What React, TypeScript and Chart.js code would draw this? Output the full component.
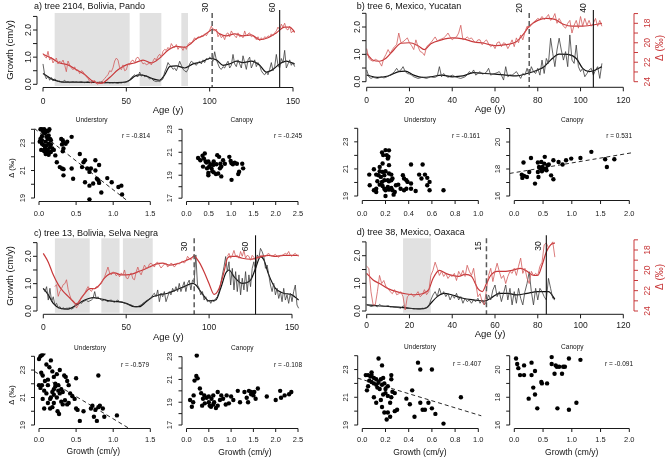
import React, { useEffect, useRef } from "react";
import { Chart, registerables } from "chart.js";

Chart.register(...registerables);

const W = 667;
const H = 461;
const FF = '"Liberation Sans", Arial, Helvetica, sans-serif';
const RED = "#c8383a";
const RED_RAW = "#d25a5a";
const BLACK = "#111111";
const GRAY_RAW = "#3c3c3c";
const SHADE = "#e1e1e1";

// ======================= DATA =======================
// ---- Panel a: tree 2104, Bolivia, Pando (annual, age 0..151)
const growthRawA = [
  0.75, 0.35, 0.2, 0.3, 0.15, 0.25, 0.12, 0.2, 0.15, 0.1,
  0.12, 0.08, 0.1, 0.15, 0.08, 0.1, 0.06, 0.08, 0.1, 0.07,
  0.09, 0.06, 0.08, 0.1, 0.07, 0.06, 0.08, 0.1, 0.06, 0.08,
  0.12, 0.07, 0.05, 0.08, 0.06, 0.1, 0.07, 0.05, 0.06, 0.08,
  0.05, 0.06, 0.05, 0.07, 0.05, 0.04, 0.06, 0.05, 0.07, 0.06,
  0.08, 0.1, 0.15, 0.25, 0.3, 0.35, 0.3, 0.28, 0.45, 0.3,
  0.35, 0.28, 0.32, 0.25, 0.2, 0.22, 0.15, 0.12, 0.1, 0.12,
  0.1, 0.15, 0.2, 0.45, 0.6, 0.8, 0.7, 0.65, 0.55, 0.6,
  0.5, 0.65, 0.85, 0.7, 0.55, 0.5, 0.45, 0.55, 0.75, 0.85,
  0.8, 0.75, 0.7, 0.8, 0.85, 0.75, 0.9, 0.8, 0.95, 0.9,
  1.0, 0.95, 0.85, 1.2, 0.9, 0.75, 0.6, 0.55, 0.65, 0.6,
  0.75, 0.85, 0.6, 0.7, 1.1, 0.75, 0.65, 0.9, 0.75, 0.6,
  1.05, 0.8, 0.55, 0.9, 1.0, 0.6, 0.75, 0.9, 0.65, 0.8,
  0.7, 0.5, 0.4, 0.35, 0.45, 0.35, 0.55, 0.8, 0.5, 0.65,
  1.1, 0.7, 0.6, 0.95, 0.8, 1.25, 0.6, 0.75, 0.9, 0.7,
  0.8, 0.65,
];
const deltaRawA = [
  20.8, 21.1, 21.3, 20.6, 21.5, 21.2, 21.8, 21.5, 21.3, 21.9,
  21.6, 21.8, 21.5, 22.0, 22.7, 21.6, 22.0, 22.3, 22.5, 22.2,
  22.6, 22.5, 22.9, 22.6, 22.7, 23.0, 23.2, 23.4, 23.7, 23.9,
  23.7, 23.6, 23.9, 24.0, 23.7, 23.9, 23.6, 23.4, 23.2, 23.0,
  22.6, 22.7, 22.3, 21.6, 21.3, 21.5, 22.3, 22.5, 22.0, 22.6,
  22.5, 21.9, 22.0, 21.6, 21.5, 21.8, 21.3, 21.2, 21.5, 21.6,
  21.9, 21.8, 22.0, 21.9, 21.8, 22.0, 21.6, 21.3, 21.5, 21.1,
  20.9, 21.2, 20.6, 20.4, 20.5, 20.2, 20.4, 19.8, 20.1, 20.2,
  19.9, 20.4, 20.1, 20.2, 20.5, 20.1, 20.4, 19.9, 19.7, 19.8,
  19.5, 19.2, 19.4, 19.1, 19.2, 19.0, 19.1, 18.8, 19.0, 18.7,
  18.4, 18.0, 18.4, 18.5, 18.3, 19.1, 18.8, 19.2, 19.0, 19.4,
  18.8, 18.7, 19.1, 18.5, 18.8, 19.0, 19.2, 18.7, 19.1, 19.0,
  19.2, 18.5, 19.0, 18.8, 18.7, 19.1, 19.0, 19.2, 19.4, 19.1,
  19.5, 19.2, 19.4, 19.1, 19.2, 19.0, 19.1, 18.8, 19.0, 18.7,
  18.5, 18.1, 18.4, 17.8, 18.1, 17.7, 18.3, 18.4, 18.0, 18.7,
  18.5, 18.7,
];
const growthSmoothAgeA = [0, 5, 10, 15, 20, 30, 40, 48, 52, 55, 58, 62, 66, 70, 73, 76, 80, 85, 90, 95, 100, 104, 108, 112, 116, 120, 125, 130, 134, 138, 142, 146, 151];
const growthSmoothA = [0.4, 0.2, 0.1, 0.08, 0.08, 0.07, 0.06, 0.07, 0.15, 0.3, 0.35, 0.3, 0.2, 0.15, 0.35, 0.65, 0.68, 0.6, 0.75, 0.82, 0.95, 0.9, 0.7, 0.75, 0.85, 0.8, 0.85, 0.7, 0.45, 0.55, 0.75, 0.85, 0.75];
const deltaSmoothAgeA = [0, 5, 10, 15, 20, 25, 30, 35, 40, 45, 50, 55, 60, 65, 70, 75, 80, 85, 88, 92, 96, 100, 102, 106, 110, 115, 120, 125, 130, 135, 140, 145, 148, 151];
const deltaSmoothA = [20.9, 21.3, 21.8, 22.0, 22.5, 23.0, 23.7, 23.9, 23.3, 22.5, 22.0, 21.8, 21.5, 21.8, 21.3, 20.5, 20.1, 20.2, 19.9, 19.3, 19.0, 18.5, 18.3, 18.8, 19.0, 18.8, 19.0, 18.9, 19.4, 19.2, 18.7, 18.1, 18.1, 18.6];
const shadeStartA = [7, 58, 83];
const shadeEndA = [52, 71, 87];
const markAgeA = [101.5, 142];
const markLabelA = ["30", "60"];

// ---- Panel b: tree 6, Mexico, Yucatan (annual, age 0..110)
const growthRawB = [
  0.43, 0.18, 0.12, 0.16, 0.14, 0.12, 0.15, 0.18, 0.14, 0.16,
  0.2, 0.24, 0.3, 0.37, 0.49, 0.37, 0.43, 0.55, 0.37, 0.3,
  0.28, 0.24, 0.18, 0.15, 0.12, 0.14, 0.16, 0.14, 0.12, 0.15,
  0.18, 0.16, 0.16, 0.2, 0.55, 0.18, 0.3, 0.22, 0.16, 0.2,
  0.24, 0.2, 0.16, 0.14, 0.12, 0.15, 0.18, 0.25, 0.37, 0.3,
  0.43, 0.24, 0.3, 0.37, 0.28, 0.3, 0.35, 0.49, 0.24, 0.28,
  0.3, 0.33, 0.37, 0.24, 0.06, 0.55, 0.18, 0.25, 0.24, 0.3,
  0.37, 0.25, 0.12, 0.3, 0.24, 0.49, 0.24, 0.55, 0.37, 0.3,
  0.49, 0.24, 0.79, 0.3, 0.85, 0.67, 1.59, 1.04, 0.55, 1.16,
  1.59, 1.16, 0.79, 1.1, 0.55, 1.71, 0.79, 0.67, 1.34, 0.55,
  0.37, 0.49, 0.18, 0.3, 0.43, 0.49, 0.24, 0.43, 0.55, 0.12,
  0.67,
];
const deltaRawB = [
  20.6, 21.6, 21.8, 21.9, 21.7, 21.8, 22.0, 22.4, 21.6, 21.2,
  20.7, 21.1, 20.7, 20.4, 20.2, 19.0, 20.0, 19.9, 19.7, 19.5,
  20.0, 20.3, 20.7, 19.7, 20.4, 20.9, 21.0, 21.3, 20.4, 20.2,
  20.0, 19.7, 19.4, 19.8, 19.7, 19.6, 19.5, 19.3, 19.0, 19.4,
  19.7, 19.5, 19.4, 19.0, 18.2, 19.7, 19.6, 19.4, 19.6, 19.5,
  19.8, 20.0, 19.7, 19.7, 20.2, 19.9, 19.7, 20.1, 20.4, 20.2,
  20.6, 20.0, 19.9, 20.4, 20.0, 20.1, 20.6, 20.2, 19.7, 20.4,
  19.5, 20.0, 19.2, 19.7, 18.9, 18.3, 18.4, 18.2, 17.9, 17.7,
  17.5, 17.6, 17.3, 17.6, 17.4, 17.1, 17.7, 17.5, 17.0, 18.0,
  17.5, 17.9, 18.3, 18.5, 18.0, 17.7, 19.0, 18.2, 17.7, 18.5,
  17.3, 18.3, 17.5, 18.2, 17.7, 18.3, 18.0, 17.5, 18.3, 17.7,
  18.3,
];
const growthSmoothAgeB = [0, 5, 10, 15, 18, 22, 26, 30, 35, 40, 45, 50, 55, 60, 65, 70, 75, 80, 83, 86, 90, 94, 98, 101, 104, 107, 110];
const growthSmoothB = [0.24, 0.16, 0.21, 0.37, 0.39, 0.24, 0.16, 0.18, 0.24, 0.18, 0.21, 0.33, 0.3, 0.28, 0.24, 0.21, 0.3, 0.43, 0.55, 0.79, 1.01, 1.0, 0.85, 0.49, 0.37, 0.43, 0.55];
const deltaSmoothAgeB = [0, 3, 6, 9, 12, 16, 20, 24, 27, 30, 35, 40, 45, 50, 55, 60, 65, 70, 73, 76, 80, 84, 88, 92, 96, 100, 105, 110];
const deltaSmoothB = [21.1, 21.8, 21.9, 21.6, 20.9, 20.05, 20.0, 20.3, 20.7, 20.1, 19.7, 19.5, 19.6, 19.9, 20.05, 20.3, 20.2, 19.9, 19.2, 18.3, 17.7, 17.5, 17.6, 18.1, 18.3, 18.3, 18.2, 18.0];
const markAgeB = [76, 106];
const markLabelB = ["20", "40"];

// ---- Panel c: tree 13, Bolivia, Selva Negra (annual, age 0..154)
const growthRawC = [
  0.83, 0.71, 0.89, 0.4, 0.83, 0.34, 0.52, 0.22, 0.28, 0.1,
  0.16, 0.07, 0.12, 0.07, 0.1, 0.1, 0.12, 0.07, 0.1, 0.16,
  0.28, 0.22, 0.32, 0.28, 0.34, 0.37, 0.4, 0.34, 0.37, 0.4,
  0.46, 0.71, 0.44, 0.52, 0.44, 0.4, 0.37, 0.44, 0.37, 0.34,
  0.39, 0.4, 0.34, 0.32, 0.37, 0.4, 0.34, 0.34, 0.32, 0.28,
  0.27, 0.24, 0.22, 0.22, 0.18, 0.16, 0.15, 0.16, 0.2, 0.22,
  0.28, 0.32, 0.37, 0.4, 0.44, 0.46, 0.59, 0.65, 0.52, 0.77,
  0.34, 0.65, 0.52, 0.71, 0.34, 0.52, 0.71, 0.59, 0.83, 0.71,
  0.89, 0.71, 1.01, 0.71, 0.89, 1.07, 0.71, 1.01, 1.13, 0.77,
  1.13, 1.07, 2.05, 0.95, 0.83, 0.59, 0.71, 0.4, 0.52, 0.34,
  0.4, 0.28, 0.4, 0.34, 0.46, 0.52, 0.71, 1.01, 1.32, 1.62,
  1.99, 1.44, 1.8, 0.95, 1.56, 0.77, 1.44, 0.71, 1.32, 0.59,
  1.2, 0.77, 1.44, 0.71, 1.32, 0.89, 1.56, 1.8, 1.44, 2.05,
  1.93, 2.29, 2.17, 1.99, 1.56, 1.68, 1.32, 0.95, 0.71, 1.01,
  0.59, 0.83, 0.46, 0.71, 0.34, 0.83, 0.4, 0.59, 0.28, 0.65,
  0.34, 0.71, 0.95, 0.22, 0.1,
];
const deltaRawC = [
  null, null, null, null, null, null, null,
  21.5, 21.3, 22.5,
  22.0, 21.7, 21.3, 21.2, 20.8, 21.8, 22.4, 22.9, 23.1, 23.3,
  23.7, 23.4, 23.0, 22.6, 22.4, 22.2, 21.8, 21.5, 21.8, 22.0,
  21.7, 21.7, 21.5, 21.6, 21.3, 21.2, 20.8, 20.5, 20.0, 19.5,
  20.1, 20.3, 20.0, 20.1, 20.4, 20.2, 20.5, 20.1, 20.3, 19.8,
  20.6, 20.7, 20.3, 20.1, 20.7, 20.8, 20.0, 19.5, 20.0, 20.3,
  19.8, 19.3, 19.6, 19.6, 19.2, 19.1, 19.3, 19.5, 19.1, 19.0,
  19.3, 19.6, 19.4, 19.2, 19.1, 19.5, 19.3, 19.1, 19.2, 19.5,
  19.3, 19.1, 19.2, 19.0, 18.9, 19.1, 18.9, 18.4, 18.6, 18.8,
  18.5, 18.2,
  null, null, null, null, null, null, null, null, null, null,
  null, null, null, null, null, null, null, null, null,
  18.4, 18.1, 18.6, 18.3, 17.8, 18.4, 18.3, 18.6, 17.9, 18.4,
  17.8, 18.6, 18.3, 18.4, 18.8, 18.3, 18.5, 18.8, 18.4, 18.6,
  18.3, 18.3, 18.4, 18.4, 18.2, 18.1, 18.3, 18.4, 18.3, 18.2,
  18.4, 18.5, 18.3, 18.3, 18.2, 18.1, 18.2, 17.9, 18.3, 18.4,
  18.2, 18.1, 18.3, 18.4,
];
const growthSmoothAgeC = [0, 3, 6, 10, 15, 20, 25, 30, 35, 40, 45, 50, 55, 58, 62, 66, 70, 75, 80, 85, 90, 92, 95, 100, 104, 107, 110, 112, 115, 120, 125, 128, 131, 133, 136, 140, 145, 150, 154];
const growthSmoothC = [0.83, 0.59, 0.28, 0.1, 0.07, 0.22, 0.4, 0.49, 0.44, 0.37, 0.34, 0.28, 0.16, 0.16, 0.34, 0.52, 0.59, 0.65, 0.77, 0.89, 1.01, 0.95, 0.71, 0.37, 0.4, 0.83, 1.38, 1.5, 1.26, 1.01, 1.13, 1.56, 1.99, 1.87, 1.32, 0.83, 0.65, 0.59, 0.4];
const deltaSmoothAgeC = [0, 3, 6, 9, 12, 15, 18, 20, 22, 25, 28, 31, 34, 37, 40, 43, 47, 50, 54, 57, 60, 64, 68, 72, 76, 80, 85, 89, 91, 94, 97, 100, 103, 106, 109, 111, 113, 116, 120, 125, 128, 132, 136, 140, 145, 150, 154];
const deltaSmoothC = [18.1, 19.0, 20.3, 21.3, 22.0, 22.5, 23.0, 23.3, 22.9, 22.2, 21.7, 21.7, 21.3, 20.6, 20.2, 20.1, 20.3, 20.3, 20.2, 20.0, 19.8, 19.5, 19.2, 19.1, 19.3, 19.2, 18.9, 18.6, 18.4, 19.0, 20.0, 21.2, 22.3, 21.7, 20.0, 18.6, 18.4, 18.4, 18.6, 18.7, 18.6, 18.4, 18.3, 18.4, 18.3, 18.3, 18.3];
const shadeStartC = [7, 35, 48];
const shadeEndC = [28, 46, 66];
const markAgeC = [91, 128];
const markLabelC = ["30", "60"];

// ---- Panel d: tree 38, Mexico, Oaxaca (annual, age 0..88)
const growthRawD = [
  0.24, 0.2, 0.16, 0.18, 0.19, 0.15, 0.24, 0.18, 0.16, 0.17,
  0.19, 0.15, 0.16, 0.14, 0.13, 0.12, 0.1, 0.19, 0.12, 0.1,
  0.1, 0.09, 0.07, 0.08, 0.07, 0.08, 0.1, 0.09, 0.12, 0.16,
  0.4, 0.58, 0.7, 0.52, 0.82, 0.58, 0.7, 0.52, 0.64, 0.4,
  0.58, 0.46, 0.64, 0.4, 0.52, 0.28, 0.46, 0.34, 0.4, 0.28,
  0.4, 0.34, 0.46, 0.28, 0.4, 0.22, 0.34, 0.58, 0.4, 0.76,
  0.94, 0.52, 0.7, 0.34, 0.64, 0.94, 0.4, 0.82, 0.22, 0.7,
  0.28, 0.82, 0.46, 0.22, 0.7, 1.0, 1.42, 0.7, 0.22, 0.82,
  0.4, 0.82, 0.7, 0.52, 0.4, 1.18, 0.82, 0.46, 0.4,
];
const deltaRawD = [
  19.6, 19.8, 22.1, 23.4, 23.4, 22.1, 20.5, 21.3, 21.0, 21.6,
  21.8, 22.1, 22.3, 21.9, 22.4, 22.3, 22.1, 22.6, 23.9, 22.6,
  22.4, 22.3, 22.6, 22.4, 22.1, 22.6, 22.4, 21.9, 22.4, 22.1,
  20.5, 20.0, 19.2, 19.8, 20.5, 20.1, 20.6, 20.3, 20.8, 20.5,
  20.6, 20.3, 21.0, 20.1, 20.5, 20.0, 20.6, 19.5, 20.1, 20.5,
  19.8, 21.3, 22.6, 22.3, 23.1, 23.4, 21.9, 20.5, 19.8, 21.1,
  20.1, 19.3, 20.1, 20.8, 20.5, 21.3, 20.6, 20.1, 20.3, 19.8,
  20.5, 19.6, 18.8, 20.3, 19.8, 20.8, 21.3, 20.1, 20.5, 20.3,
  20.5, 19.6, 19.2, 17.5, 17.3, 17.8, 17.5, 17.2, 18.7,
];
const growthSmoothAgeD = [0, 5, 10, 15, 20, 25, 28, 30, 33, 36, 40, 45, 50, 55, 58, 62, 66, 70, 75, 80, 85, 88];
const growthSmoothD = [0.22, 0.19, 0.17, 0.14, 0.1, 0.08, 0.12, 0.28, 0.52, 0.64, 0.58, 0.46, 0.4, 0.36, 0.46, 0.64, 0.64, 0.58, 0.64, 0.7, 0.7, 0.43];
const deltaSmoothAgeD = [0, 3, 6, 10, 14, 18, 22, 26, 29, 31, 34, 37, 40, 43, 46, 49, 52, 54, 56, 58, 61, 65, 68, 72, 75, 78, 80, 82, 84, 86, 88];
const deltaSmoothD = [20.3, 20.95, 21.3, 21.8, 22.1, 22.3, 22.4, 22.3, 21.9, 20.8, 20.0, 20.3, 20.5, 20.6, 20.4, 20.6, 21.8, 22.1, 21.3, 20.5, 20.1, 20.1, 20.0, 19.8, 20.1, 20.5, 20.5, 19.5, 18.2, 17.5, 17.3];
const shadeStartD = [17];
const shadeEndD = [30];
const markAgeD = [56, 84];
const markLabelD = ["15", "30"];

// ---- Scatter: growth (cm/y) vs Δ (‰)
const undAx = [0.02, 0.04, 0.07, 0.09, 0.11, 0.06, 0.08, 0.04, 0.1, 0.13, 0.12, 0.16, 0.04, 0.09, 0.13, 0.16, 0.06, 0.1, 0.15, 0.18, 0.03, 0.07, 0.11, 0.16, 0.2, 0.09, 0.13, 0.22, 0.04, 0.01, 0.3, 0.32, 0.33, 0.31, 0.36, 0.38, 0.44, 0.33, 0.32, 0.24, 0.28, 0.31, 0.33, 0.33, 0.44, 0.46, 0.55, 0.58, 0.6, 0.62, 0.65, 0.68, 0.7, 0.76, 0.76, 0.81, 0.62, 0.68, 0.73, 0.78, 0.8, 0.81, 0.84, 0.92, 0.98, 1.07, 1.11, 1.12, 0.68, 0.02, 0.05, 0.13, 0.14, 0.08, 0.12, 0.15];
const undAy = [24.0, 24.0, 24.0, 23.9, 23.85, 23.8, 23.7, 23.5, 23.45, 23.55, 23.3, 23.2, 23.2, 23.1, 22.95, 22.9, 22.85, 22.8, 22.7, 22.6, 22.5, 22.4, 22.3, 22.35, 22.5, 22.2, 22.15, 22.1, 22.95, 23.1, 23.3, 23.2, 23.0, 22.9, 22.95, 23.1, 23.45, 22.6, 22.4, 21.6, 21.25, 21.15, 21.1, 20.65, 21.15, 20.4, 22.2, 21.25, 21.6, 21.75, 21.15, 20.9, 21.15, 21.75, 21.0, 21.4, 20.15, 19.9, 20.05, 20.4, 20.3, 20.1, 19.4, 20.45, 20.15, 19.8, 19.9, 19.25, 18.9, 23.3, 23.9, 23.9, 24.0, 22.6, 22.5, 23.3];
const canAx = [0.26, 0.31, 0.36, 0.41, 0.39, 0.43, 0.45, 0.49, 0.37, 0.46, 0.49, 0.49, 0.56, 0.58, 0.61, 0.66, 0.67, 0.69, 0.73, 0.76, 0.78, 0.75, 0.78, 0.71, 0.82, 0.86, 0.96, 0.99, 1.01, 1.04, 1.08, 1.13, 1.18, 1.16, 1.25, 1.27, 1.01, 0.54, 0.6, 0.61, 0.51];
const canAy = [20.5, 20.3, 20.7, 20.9, 20.45, 20.2, 20.1, 20.2, 19.75, 19.6, 19.2, 19.0, 19.6, 19.35, 19.25, 19.1, 19.95, 20.75, 20.6, 20.0, 19.75, 19.6, 18.9, 19.15, 20.3, 20.0, 20.6, 20.25, 20.05, 19.95, 20.1, 20.0, 19.3, 19.1, 20.0, 19.6, 18.6, 19.95, 19.9, 20.2, 19.75];
const undBx = [0.17, 0.2, 0.23, 0.21, 0.225, 0.18, 0.175, 0.22, 0.23, 0.15, 0.175, 0.2, 0.12, 0.06, 0.1, 0.14, 0.16, 0.19, 0.23, 0.25, 0.26, 0.13, 0.17, 0.15, 0.175, 0.12, 0.19, 0.2, 0.22, 0.23, 0.25, 0.26, 0.29, 0.27, 0.2, 0.064, 0.1, 0.12, 0.19, 0.22, 0.23, 0.25, 0.28, 0.31, 0.33, 0.36, 0.35, 0.36, 0.38, 0.39, 0.42, 0.42, 0.42, 0.46, 0.49, 0.51, 0.52, 0.54, 0.56, 0.58, 0.56, 0.58, 0.7, 0.38, 0.15];
const undBy = [22.22, 22.39, 22.37, 22.02, 21.9, 22.02, 21.4, 21.77, 21.28, 20.83, 20.78, 20.83, 20.58, 20.58, 20.98, 20.53, 20.41, 20.53, 20.66, 20.58, 20.29, 20.09, 20.04, 19.84, 19.74, 19.54, 19.54, 19.42, 19.67, 19.47, 19.59, 19.42, 19.79, 19.1, 19.0, 19.79, 19.42, 19.3, 20.16, 20.16, 20.09, 20.16, 19.3, 19.84, 19.54, 19.42, 20.53, 20.29, 20.16, 20.04, 21.33, 19.92, 19.54, 19.37, 20.58, 20.29, 21.33, 20.58, 20.34, 20.04, 19.79, 19.42, 19.42, 19.54, 21.15];
const canBx = [0.16, 0.13, 0.14, 0.17, 0.22, 0.26, 0.29, 0.36, 0.41, 0.42, 0.41, 0.43, 0.45, 0.47, 0.48, 0.49, 0.51, 0.52, 0.53, 0.55, 0.56, 0.58, 0.6, 0.64, 0.68, 0.68, 0.77, 0.84, 0.9, 0.99, 1.15, 1.34, 1.58, 1.61, 1.74];
const canBy = [18.48, 17.58, 17.34, 17.49, 17.41, 17.78, 18.82, 16.92, 17.78, 17.41, 18.48, 18.15, 18.03, 18.52, 17.83, 18.15, 17.98, 18.4, 18.9, 18.03, 17.9, 18.28, 18.33, 17.53, 17.24, 18.65, 18.52, 18.33, 18.65, 18.77, 18.82, 19.27, 18.72, 18.15, 18.72];
const undCx = [0.0, 0.02, 0.04, 0.06, 0.03, 0.05, 0.0, 0.02, 0.04, 0.07, 0.1, 0.14, 0.16, 0.18, 0.2, 0.12, 0.24, 0.28, 0.1, 0.05, 0.07, 0.12, 0.15, 0.18, 0.2, 0.22, 0.2, 0.24, 0.26, 0.28, 0.3, 0.34, 0.36, 0.38, 0.4, 0.3, 0.32, 0.35, 0.38, 0.4, 0.18, 0.2, 0.25, 0.27, 0.15, 0.42, 0.45, 0.5, 0.48, 0.5, 0.52, 0.55, 0.6, 0.7, 0.72, 0.74, 0.76, 0.78, 0.8, 0.82, 0.86, 0.88, 0.8, 1.05, 0.22, 0.26, 0.32, 0.12, 0.16, 0.08];
const undCy = [23.8, 24.0, 24.1, 24.2, 22.8, 22.6, 21.9, 21.7, 21.9, 21.5, 23.4, 23.2, 23.7, 22.9, 22.5, 22.3, 22.7, 23.0, 21.3, 20.9, 20.2, 20.6, 20.9, 21.4, 21.6, 21.8, 21.2, 21.0, 21.5, 21.3, 21.6, 22.6, 22.5, 22.2, 21.9, 20.7, 20.5, 20.8, 20.5, 20.6, 20.3, 20.6, 20.0, 19.8, 20.2, 21.3, 21.1, 22.4, 20.9, 20.2, 20.1, 19.3, 20.0, 20.2, 20.4, 19.6, 20.1, 19.3, 20.3, 20.4, 20.2, 19.6, 22.6, 19.7, 22.0, 21.9, 21.4, 21.9, 21.0, 22.2];
const canCx = [0.08, 0.12, 0.15, 0.16, 0.18, 0.22, 0.25, 0.3, 0.33, 0.37, 0.41, 0.45, 0.5, 0.52, 0.56, 0.6, 0.62, 0.66, 0.7, 0.75, 0.78, 0.82, 0.88, 0.95, 1.0, 1.05, 1.15, 1.2, 1.3, 1.35, 1.4, 1.45, 1.48, 1.5, 1.52, 1.55, 1.6, 1.8, 2.0, 2.1, 2.2, 2.3, 2.35, 0.23, 0.4, 0.5, 0.7, 0.9, 0.35, 0.55, 0.6, 1.38, 1.45, 2.12];
const canCy = [19.2, 18.6, 19.0, 19.6, 20.9, 21.3, 21.1, 20.2, 19.8, 19.3, 18.9, 19.4, 19.0, 18.7, 19.3, 19.6, 19.0, 18.5, 18.7, 19.2, 19.6, 19.3, 18.8, 18.9, 19.5, 19.2, 20.0, 19.0, 19.9, 19.4, 20.0, 19.7, 19.8, 19.6, 19.9, 19.3, 20.2, 19.5, 19.2, 20.0, 19.6, 19.7, 19.9, 23.1, 19.6, 19.5, 19.9, 19.6, 18.7, 18.6, 18.8, 19.0, 19.9, 19.4];
const undDx = [0.03, 0.05, 0.07, 0.08, 0.1, 0.12, 0.06, 0.08, 0.05, 0.04, 0.1, 0.12, 0.14, 0.16, 0.18, 0.13, 0.15, 0.17, 0.19, 0.2, 0.22, 0.14, 0.17, 0.2, 0.16, 0.17, 0.19, 0.22, 0.24, 0.21, 0.25, 0.26, 0.24, 0.28, 0.3, 0.25, 0.25, 0.22, 0.18, 0.38, 0.41, 0.43, 0.45, 0.48, 0.5, 0.5, 0.52, 0.54, 0.57, 0.6, 0.6, 0.63, 0.7, 0.85, 0.1, 0.12, 0.28, 0.08];
const undDy = [22.6, 22.6, 22.5, 22.6, 22.4, 22.3, 22.2, 22.1, 21.8, 21.5, 22.0, 21.9, 22.1, 22.3, 22.4, 21.7, 21.6, 21.9, 22.0, 21.6, 21.8, 23.8, 23.3, 21.3, 20.8, 20.3, 19.9, 19.9, 19.6, 19.4, 21.0, 21.4, 20.6, 21.3, 20.1, 22.6, 22.3, 21.1, 21.2, 20.9, 20.5, 21.5, 19.6, 23.5, 23.0, 20.6, 20.1, 20.1, 20.6, 23.0, 20.2, 19.8, 19.1, 21.0, 21.0, 20.6, 20.0, 22.8];
const canDx = [0.03, 0.05, 0.07, 0.1, 0.17, 0.17, 0.3, 0.3, 0.33, 0.36, 0.36, 0.25, 0.4, 0.47, 0.48, 0.57, 0.65, 0.65, 0.7, 0.72, 0.74, 0.78, 0.83, 0.85, 0.88, 0.75, 0.95, 0.95, 1.08, 1.15];
const canDy = [20.8, 20.4, 20.1, 19.6, 20.3, 19.6, 20.5, 19.6, 18.7, 19.9, 18.2, 17.9, 17.2, 19.1, 19.0, 19.0, 20.9, 20.4, 19.7, 20.3, 20.2, 20.2, 19.7, 20.2, 20.2, 17.2, 20.8, 17.1, 17.6, 20.7];

// regression lines [intercept, slope]
const regUndA = [23.8, -4.2];
const regCanB = [17.73, 0.72];
const regUndC = [22.7, -3.25];
const regUndD = [22.28, -2.55];
// correlation coefficients, order: undA, canA, undB, canB, undC, canC, undD, canD
const rValues = [-0.814, -0.245, -0.161, 0.531, -0.579, -0.108, -0.407, -0.091];

// tick sets
const growthTicks = [0, 0.5, 1, 1.5, 2, 2.5];
const growthTickLabels = [0, 1, 2];
const ageTicks150 = [0, 50, 100, 150];
const ageTicks120 = [0, 20, 40, 60, 80, 100, 120];
const deltaTicks = [17, 18, 19, 20, 21, 22, 23, 24];
const deltaTickLabels = [18, 20, 22, 24];
const undYTicks = [19, 20, 21, 22, 23, 24];
const undYLabels = [19, 21, 23];
const canYTicksAC = [17, 18, 19, 20, 21, 22, 23];
const canYLabelsAC = [17, 19, 21, 23];
const canYTicksBD = [16, 17, 18, 19, 20, 21];
const canYLabelsBD = [16, 18, 20];
const undXTicksAC = [0, 0.5, 1, 1.5];
const canXTicksAC = [0, 0.5, 1, 1.5, 2, 2.5];
const undXTicksBD = [0, 0.2, 0.4, 0.6, 0.8, 1];
const canXTicksBD = [0, 0.5, 1, 1.5, 2];

// ======================= LAYOUT HELPERS =======================
type Cal = [number, number, number, number];
type Box = [number, number, number, number];

function valAt(cal: Cal, p: number) {
  const [p0, v0, p1, v1] = cal;
  return v0 + ((p - p0) * (v1 - v0)) / (p1 - p0);
}

type AxisSpec = {
  side: "bottom" | "left" | "right";
  scale: string;
  ticks: number[];
  labels: number[];
  fmt: (v: number) => string;
  font: number;
  off: number;
  tick: number;
  color?: string;
};
type TextSpec = { t: string; x: number; y: number; size: number; color?: string; rot?: boolean; align?: CanvasTextAlign };
type Deco = {
  axes: AxisSpec[];
  texts: TextSpec[];
  shades?: { s: number[]; e: number[] };
  marks?: { ages: number[]; labels: string[]; dx: number; ly: number; size: number };
};

function drawText(ctx: CanvasRenderingContext2D, t: TextSpec) {
  ctx.save();
  ctx.fillStyle = t.color || "#111";
  ctx.font = `${t.size}px ${FF}`;
  ctx.textAlign = t.align || "center";
  ctx.textBaseline = "middle";
  ctx.translate(t.x, t.y);
  if (t.rot) ctx.rotate(-Math.PI / 2);
  ctx.fillText(t.t, 0, 0);
  ctx.restore();
}

function drawAxis(chart: any, a: AxisSpec) {
  const ctx: CanvasRenderingContext2D = chart.ctx;
  const ca = chart.chartArea;
  const s = chart.scales[a.scale];
  const col = a.color || "#1a1a1a";
  const px = (v: number) => s.getPixelForValue(v);
  ctx.save();
  ctx.strokeStyle = col;
  ctx.lineWidth = 1;
  ctx.beginPath();
  if (a.side === "bottom") {
    const y = ca.bottom;
    ctx.moveTo(px(a.ticks[0]), y);
    ctx.lineTo(px(a.ticks[a.ticks.length - 1]), y);
    for (const t of a.ticks) {
      ctx.moveTo(px(t), y);
      ctx.lineTo(px(t), y + a.tick);
    }
    ctx.stroke();
    for (const t of a.labels) drawText(ctx, { t: a.fmt(t), x: px(t), y: y + a.off, size: a.font, color: col });
  } else {
    const dir = a.side === "left" ? -1 : 1;
    const x = a.side === "left" ? ca.left : ca.right;
    ctx.moveTo(x, px(a.ticks[0]));
    ctx.lineTo(x, px(a.ticks[a.ticks.length - 1]));
    for (const t of a.ticks) {
      ctx.moveTo(x, px(t));
      ctx.lineTo(x + dir * a.tick, px(t));
    }
    ctx.stroke();
    for (const t of a.labels) drawText(ctx, { t: a.fmt(t), x: x + dir * a.off, y: px(t), size: a.font, color: col, rot: true });
  }
  ctx.restore();
}

function decoPlugin(d: Deco) {
  return {
    id: "deco",
    beforeDatasetsDraw(chart: any) {
      if (!d.shades) return;
      const { ctx, chartArea: ca, scales } = chart;
      ctx.save();
      ctx.fillStyle = SHADE;
      d.shades.s.forEach((a, i) => {
        const x0 = scales.x.getPixelForValue(a);
        const x1 = scales.x.getPixelForValue(d.shades!.e[i]);
        ctx.fillRect(x0, ca.top, x1 - x0, ca.bottom - ca.top - 1.5);
      });
      ctx.restore();
    },
    afterDatasetsDraw(chart: any) {
      if (!d.marks) return;
      const { ctx, chartArea: ca, scales } = chart;
      d.marks.ages.forEach((age, i) => {
        const x = scales.x.getPixelForValue(age);
        ctx.save();
        ctx.beginPath();
        if (i === 0) {
          ctx.setLineDash([5, 3]);
          ctx.strokeStyle = "#5a5a5a";
          ctx.lineWidth = 1.5;
          ctx.moveTo(x, ca.top);
        } else {
          ctx.strokeStyle = "#111";
          ctx.lineWidth = 1.1;
          ctx.moveTo(x, ca.top - 3);
        }
        ctx.lineTo(x, ca.bottom);
        ctx.stroke();
        ctx.restore();
        drawText(ctx, { t: d.marks!.labels[i], x: x + d.marks!.dx, y: d.marks!.ly, size: d.marks!.size, rot: true });
      });
    },
    afterDraw(chart: any) {
      for (const a of d.axes) drawAxis(chart, a);
      for (const t of d.texts) drawText(chart.ctx, t);
    },
  };
}

const fmt1 = (v: number) => v.toFixed(1);
const fmt0 = (v: number) => String(v);

// ======================= TIME SERIES =======================
type TSP = {
  box: Box; xcal: Cal; ycal: Cal; dcal: Cal;
  gRaw: number[]; dRaw: (number | null)[];
  gsAge: number[]; gs: number[]; dsAge: number[]; ds: number[];
  ageTicks: number[];
  shades?: { s: number[]; e: number[] };
  marks: { ages: number[]; labels: string[]; dx: number; ly: number; size: number };
  right: boolean;
  xOff: number;
  texts: TextSpec[];
};

function tsConfig(p: TSP) {
  const [L, T, R, B] = p.box;
  const xmin = valAt(p.xcal, L), xmax = valAt(p.xcal, R);
  const ymin = valAt(p.ycal, B), ymax = valAt(p.ycal, T);
  const dTop = valAt(p.dcal, T), dBot = valAt(p.dcal, B);
  const axes: AxisSpec[] = [
    { side: "bottom", scale: "x", ticks: p.ageTicks, labels: p.ageTicks, fmt: fmt0, font: 8.5, off: p.xOff, tick: 4 },
    { side: "left", scale: "y", ticks: growthTicks, labels: growthTickLabels, fmt: fmt1, font: 8.5, off: 8.5, tick: 4 },
  ];
  if (p.right) axes.push({ side: "right", scale: "y1", ticks: deltaTicks, labels: deltaTickLabels, fmt: fmt0, font: 8.5, off: 13.5, tick: 4, color: RED });
  return {
    type: "line",
    data: {
      datasets: [
        { data: p.dRaw.map((v, i) => ({ x: i, y: v })), yAxisID: "y1", borderColor: RED_RAW, borderWidth: 0.8, pointRadius: 0, spanGaps: false },
        { data: p.dsAge.map((a, i) => ({ x: a, y: p.ds[i] })), yAxisID: "y1", borderColor: RED, borderWidth: 1.2, pointRadius: 0, cubicInterpolationMode: "monotone" },
        { data: p.gRaw.map((v, i) => ({ x: i, y: v })), yAxisID: "y", borderColor: GRAY_RAW, borderWidth: 0.8, pointRadius: 0 },
        { data: p.gsAge.map((a, i) => ({ x: a, y: p.gs[i] })), yAxisID: "y", borderColor: BLACK, borderWidth: 1.2, pointRadius: 0, cubicInterpolationMode: "monotone" },
      ],
    },
    options: {
      animation: false, responsive: false, devicePixelRatio: 1, events: [],
      layout: { padding: { left: L, top: T, right: W - R, bottom: H - B } },
      plugins: { legend: { display: false }, tooltip: { enabled: false }, title: { display: false } },
      scales: {
        x: { type: "linear", min: xmin, max: xmax, display: false },
        y: { type: "linear", min: ymin, max: ymax, display: false },
        y1: { type: "linear", min: dTop, max: dBot, reverse: true, display: false },
      },
    },
    plugins: [decoPlugin({ axes, texts: p.texts, shades: p.shades, marks: p.marks })],
  };
}

// ======================= SCATTER =======================
type SP = {
  box: Box; xcal: Cal; ycal: Cal;
  xs: number[]; ys: number[]; reg?: number[];
  xTicks: number[]; yTicks: number[]; yLabels: number[];
  xOff: number;
  texts: TextSpec[];
};

function scConfig(p: SP) {
  const [L, T, R, B] = p.box;
  const xmin = valAt(p.xcal, L), xmax = valAt(p.xcal, R);
  const ymin = valAt(p.ycal, B), ymax = valAt(p.ycal, T);
  const datasets: any[] = [
    { type: "scatter", data: p.xs.map((x, i) => ({ x, y: p.ys[i] })), pointRadius: 2.2, pointBackgroundColor: "#000", pointBorderWidth: 0, pointBorderColor: "#000" },
  ];
  if (p.reg) {
    const [a, b] = p.reg;
    datasets.push({ type: "line", data: [xmin, xmax].map((x) => ({ x, y: a + b * x })), borderColor: "#111", borderWidth: 0.9, borderDash: [4, 3], pointRadius: 0, fill: false });
  }
  const axes: AxisSpec[] = [
    { side: "bottom", scale: "x", ticks: p.xTicks, labels: p.xTicks, fmt: fmt1, font: 7.5, off: p.xOff, tick: 3.5 },
    { side: "left", scale: "y", ticks: p.yTicks, labels: p.yLabels, fmt: fmt0, font: 7.5, off: 12, tick: 3.5 },
  ];
  return {
    type: "scatter",
    data: { datasets },
    options: {
      animation: false, responsive: false, devicePixelRatio: 1, events: [],
      layout: { padding: { left: L, top: T, right: W - R, bottom: H - B } },
      plugins: { legend: { display: false }, tooltip: { enabled: false }, title: { display: false } },
      scales: {
        x: { type: "linear", min: xmin, max: xmax, display: false },
        y: { type: "linear", min: ymin, max: ymax, display: false },
      },
    },
    plugins: [decoPlugin({ axes, texts: p.texts })],
  };
}

const rTxt = (v: number) => "r = " + v.toFixed(3);

const configs: (() => any)[] = [
  // ---- time series a
  () => tsConfig({
    box: [37, 13, 300, 87.5], xcal: [43, 0, 293, 150], ycal: [84.3, 0, 30, 2], dcal: [84.3, 24, 26.1, 18],
    gRaw: growthRawA, dRaw: deltaRawA, gsAge: growthSmoothAgeA, gs: growthSmoothA, dsAge: deltaSmoothAgeA, ds: deltaSmoothA,
    ageTicks: ageTicks150, shades: { s: shadeStartA, e: shadeEndA },
    marks: { ages: markAgeA, labels: markLabelA, dx: -7, ly: 7.5, size: 8.5 }, right: false, xOff: 14,
    texts: [
      { t: "a) tree 2104, Bolivia, Pando", x: 34, y: 7, size: 9, align: "left" },
      { t: "Growth (cm/y)", x: 10, y: 50, size: 9.5, rot: true },
      { t: "Age (y)", x: 168, y: 110, size: 9.5 },
    ],
  }),
  // ---- time series b
  () => tsConfig({
    box: [366, 13, 634, 87.3], xcal: [366.7, 0, 623.3, 120], ycal: [81.7, 0, 27, 2], dcal: [81.7, 24, 23.3, 18],
    gRaw: growthRawB, dRaw: deltaRawB, gsAge: growthSmoothAgeB, gs: growthSmoothB, dsAge: deltaSmoothAgeB, ds: deltaSmoothB,
    ageTicks: ageTicks120,
    marks: { ages: markAgeB, labels: markLabelB, dx: -10, ly: 8, size: 8.5 }, right: true, xOff: 13,
    texts: [
      { t: "b) tree 6, Mexico, Yucatan", x: 356.7, y: 6.5, size: 9, align: "left" },
      { t: "Age (y)", x: 490, y: 109.5, size: 9.5 },
      { t: "Δ (‰)", x: 660, y: 48, size: 10, rot: true, color: RED },
    ],
  }),
  // ---- time series c
  () => tsConfig({
    box: [37, 238.3, 300, 314.3], xcal: [43.3, 0, 292, 150], ycal: [311, 0, 256.3, 2], dcal: [311, 24, 252.4, 18],
    gRaw: growthRawC, dRaw: deltaRawC, gsAge: growthSmoothAgeC, gs: growthSmoothC, dsAge: deltaSmoothAgeC, ds: deltaSmoothC,
    ageTicks: ageTicks150, shades: { s: shadeStartC, e: shadeEndC },
    marks: { ages: markAgeC, labels: markLabelC, dx: -10, ly: 246.5, size: 8.5 }, right: false, xOff: 13.5,
    texts: [
      { t: "c) tree 13, Bolivia, Selva Negra", x: 34, y: 234, size: 9, align: "left" },
      { t: "Growth (cm/y)", x: 10, y: 276, size: 9.5, rot: true },
      { t: "Age (y)", x: 168.3, y: 337, size: 9.5 },
    ],
  }),
  // ---- time series d
  () => tsConfig({
    box: [366, 238.3, 634, 314.3], xcal: [366.7, 0, 623.3, 120], ycal: [311, 0, 255.7, 2], dcal: [311, 24, 250, 18],
    gRaw: growthRawD, dRaw: deltaRawD, gsAge: growthSmoothAgeD, gs: growthSmoothD, dsAge: deltaSmoothAgeD, ds: deltaSmoothD,
    ageTicks: ageTicks120, shades: { s: shadeStartD, e: shadeEndD },
    marks: { ages: markAgeD, labels: markLabelD, dx: -8, ly: 246, size: 8.5 }, right: true, xOff: 11,
    texts: [
      { t: "d) tree 38, Mexico, Oaxaca", x: 356.7, y: 232.5, size: 9, align: "left" },
      { t: "Age (y)", x: 490, y: 334, size: 9.5 },
      { t: "Δ (‰)", x: 660, y: 277, size: 10, rot: true, color: RED },
    ],
  }),
  // ---- scatter a understory
  () => scConfig({
    box: [34.5, 126.5, 155, 201.5], xcal: [39, 0, 150.3, 1.5], ycal: [198, 19, 129.3, 24],
    xs: undAx, ys: undAy, reg: regUndA, xTicks: undXTicksAC, yTicks: undYTicks, yLabels: undYLabels, xOff: 12.5,
    texts: [
      { t: "Understory", x: 91.7, y: 120, size: 6.5 },
      { t: rTxt(rValues[0]), x: 150, y: 136, size: 6.5, align: "right" },
      { t: "Δ (‰)", x: 11.7, y: 168, size: 7.5, rot: true },
    ],
  }),
  // ---- scatter a canopy
  () => scConfig({
    box: [182, 126.5, 302.5, 201.5], xcal: [186.5, 0, 298, 2.5], ycal: [198.2, 17, 129.3, 23],
    xs: canAx, ys: canAy, xTicks: canXTicksAC, yTicks: canYTicksAC, yLabels: canYLabelsAC, xOff: 12.5,
    texts: [
      { t: "Canopy", x: 241.7, y: 120, size: 6.5 },
      { t: rTxt(rValues[1]), x: 302, y: 136, size: 6.5, align: "right" },
    ],
  }),
  // ---- scatter b understory
  () => scConfig({
    box: [357.7, 126, 481.5, 200.5], xcal: [362.3, 0, 478.3, 1], ycal: [196, 19, 128.3, 24],
    xs: undBx, ys: undBy, xTicks: undXTicksBD, yTicks: undYTicks, yLabels: undYLabels, xOff: 13.5,
    texts: [
      { t: "Understory", x: 420, y: 120, size: 6.5 },
      { t: rTxt(rValues[2]), x: 480, y: 136, size: 6.5, align: "right" },
    ],
  }),
  // ---- scatter b canopy
  () => scConfig({
    box: [509.7, 126, 633.8, 200.5], xcal: [514.3, 0, 629.3, 2], ycal: [196, 16, 128.5, 21],
    xs: canBx, ys: canBy, reg: regCanB, xTicks: canXTicksBD, yTicks: canYTicksBD, yLabels: canYLabelsBD, xOff: 13.5,
    texts: [
      { t: "Canopy", x: 572.3, y: 120, size: 6.5 },
      { t: rTxt(rValues[3]), x: 632, y: 136, size: 6.5, align: "right" },
    ],
  }),
  // ---- scatter c understory
  () => scConfig({
    box: [34.5, 353.5, 155, 428.5], xcal: [39, 0, 150.3, 1.5], ycal: [425, 19, 356.3, 24],
    xs: undCx, ys: undCy, reg: regUndC, xTicks: undXTicksAC, yTicks: undYTicks, yLabels: undYLabels, xOff: 11,
    texts: [
      { t: "Understory", x: 90, y: 348, size: 6.5 },
      { t: rTxt(rValues[4]), x: 149, y: 365, size: 6.5, align: "right" },
      { t: "Δ (‰)", x: 11.7, y: 395, size: 7.5, rot: true },
      { t: "Growth (cm/y)", x: 93.3, y: 452, size: 8.5 },
    ],
  }),
  // ---- scatter c canopy
  () => scConfig({
    box: [182, 353.5, 302.5, 428.5], xcal: [186.5, 0, 298, 2.5], ycal: [425, 17, 356.7, 23],
    xs: canCx, ys: canCy, xTicks: canXTicksAC, yTicks: canYTicksAC, yLabels: canYLabelsAC, xOff: 11,
    texts: [
      { t: "Canopy", x: 242.3, y: 348, size: 6.5 },
      { t: rTxt(rValues[5]), x: 302, y: 365, size: 6.5, align: "right" },
      { t: "Growth (cm/y)", x: 245, y: 453, size: 8.5 },
    ],
  }),
  // ---- scatter d understory
  () => scConfig({
    box: [357.7, 353, 481.5, 428.5], xcal: [362.3, 0, 478.3, 1], ycal: [425, 19, 355.7, 24],
    xs: undDx, ys: undDy, reg: regUndD, xTicks: undXTicksBD, yTicks: undYTicks, yLabels: undYLabels, xOff: 11,
    texts: [
      { t: "Understory", x: 420, y: 347.3, size: 6.5 },
      { t: rTxt(rValues[6]), x: 481, y: 364, size: 6.5, align: "right" },
      { t: "Growth (cm/y)", x: 420, y: 453, size: 8.5 },
    ],
  }),
  // ---- scatter d canopy
  () => scConfig({
    box: [509.7, 353, 633.8, 428.5], xcal: [514.3, 0, 629.3, 2], ycal: [425, 16, 355.7, 21],
    xs: canDx, ys: canDy, xTicks: canXTicksBD, yTicks: canYTicksBD, yLabels: canYLabelsBD, xOff: 11,
    texts: [
      { t: "Canopy", x: 572.3, y: 347.3, size: 6.5 },
      { t: rTxt(rValues[7]), x: 633, y: 364, size: 6.5, align: "right" },
      { t: "Growth (cm/y)", x: 571.7, y: 453, size: 8.5 },
    ],
  }),
];

function Layer({ make }: { make: () => any }) {
  const ref = useRef<HTMLCanvasElement>(null);
  useEffect(() => {
    const chart = new Chart(ref.current as HTMLCanvasElement, make());
    return () => chart.destroy();
  }, [make]);
  return (
    <canvas
      ref={ref}
      width={W}
      height={H}
      style={{ position: "absolute", left: 0, top: 0, width: W, height: H }}
    />
  );
}

export default function App() {
  return (
    <div style={{ position: "fixed", left: 0, top: 0, width: W, height: H, background: "#fff", overflow: "hidden" }}>
      {configs.map((m, i) => (
        <Layer key={i} make={m} />
      ))}
    </div>
  );
}
